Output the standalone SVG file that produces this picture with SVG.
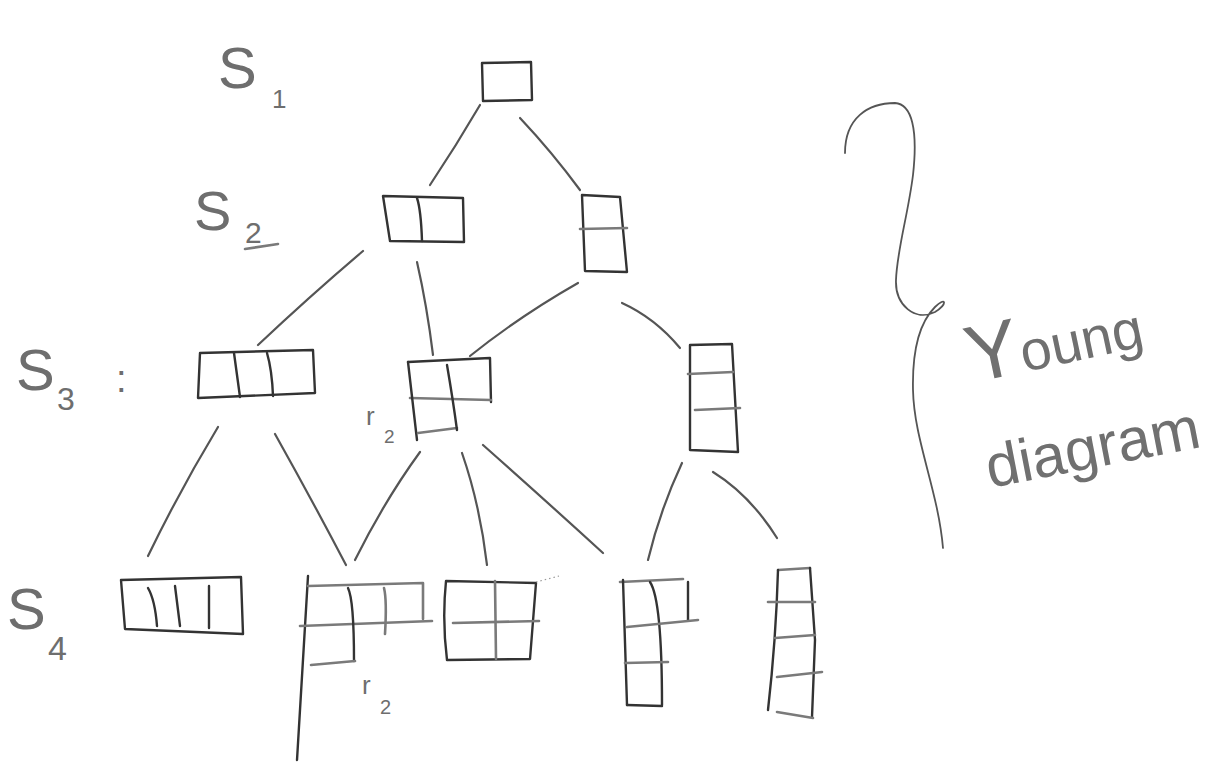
<svg xmlns="http://www.w3.org/2000/svg" width="1224" height="765" viewBox="0 0 1224 765">
<style>
.ln{fill:none;stroke:#333;stroke-width:2.4;stroke-linecap:round;stroke-linejoin:round}
.lg{fill:none;stroke:#7a7a7a;stroke-width:2.6;stroke-linecap:round;stroke-linejoin:round}
.cn{fill:none;stroke:#555;stroke-width:2.2;stroke-linecap:round}
.dt{fill:none;stroke:#999;stroke-width:1.2;stroke-dasharray:1.5 3}
.lbl{font-family:"Liberation Sans",Arial,sans-serif;fill:#6e6e6e}
.hw{font-family:"Liberation Sans",Arial,sans-serif;fill:#707070}
</style>
<rect width="1224" height="765" fill="#fff"/>

<!-- level labels -->
<g id="labels">
  <text class="lbl" x="218" y="88" font-size="58">S</text>
  <text class="lbl" x="272" y="108" font-size="26">1</text>
  <text class="lbl" x="194" y="230" font-size="56">S</text>
  <text class="lbl" x="245" y="243" font-size="30">2</text>
  <path class="lg" d="M245,249 L278,244" stroke-width="1.8"/>
  <text class="lbl" x="16" y="390" font-size="58">S</text>
  <text class="lbl" x="57" y="410" font-size="32">3</text>
  <text class="lbl" x="116" y="392" font-size="38">:</text>
  <text class="lbl" x="7" y="629" font-size="58">S</text>
  <text class="lbl" x="48" y="660" font-size="34">4</text>
  <text class="lbl" x="366" y="425" font-size="26">r<tspan x="384" y="443" font-size="19">2</tspan></text>
  <text class="lbl" x="362" y="694" font-size="26">r<tspan x="380" y="714" font-size="20">2</tspan></text>
</g>

<!-- connectors -->
<g id="connectors">
  <path class="cn" d="M480,105 Q456,146 430,185"/>
  <path class="cn" d="M520,118 Q552,152 580,190"/>
  <path class="cn" d="M363,251 Q310,296 258,345"/>
  <path class="cn" d="M417,262 Q427,306 433,355"/>
  <path class="cn" d="M578,283 Q520,316 470,356"/>
  <path class="cn" d="M622,303 Q655,318 680,348"/>
  <path class="cn" d="M218,427 Q180,490 148,556"/>
  <path class="cn" d="M275,434 Q312,500 346,565"/>
  <path class="cn" d="M420,452 Q385,500 355,560"/>
  <path class="cn" d="M462,453 Q480,505 487,565"/>
  <path class="cn" d="M483,445 Q545,500 603,553"/>
  <path class="cn" d="M682,463 Q660,510 648,560"/>
  <path class="cn" d="M713,472 Q750,495 777,538"/>
</g>

<!-- S1 -->
<g id="n-1">
  <path class="ln" d="M482,63 L531,62 L532,100 L483,101 Z"/>
</g>

<!-- S2 -->
<g id="n-2">
  <path class="ln" d="M383,196 L463,198 L464,242 L390,241 Z"/>
  <path class="ln" d="M417,198 Q421,210 422,241"/>
</g>
<g id="n-11">
  <path class="ln" d="M582,195 L620,197 L627,272 L585,271 Z"/>
  <path class="lg" d="M580,229 L627,228"/>
</g>

<!-- S3 -->
<g id="n-3">
  <path class="ln" d="M200,353 L313,350 L315,393 L198,398 Z"/>
  <path class="ln" d="M234,353 L240,397"/>
  <path class="ln" d="M267,353 Q272,370 273,396"/>
</g>
<g id="n-21">
  <path class="ln" d="M408,362 L490,358 L491,402"/>
  <path class="lg" d="M410,398 L491,400"/>
  <path class="ln" d="M408,362 L417,440"/>
  <path class="lg" d="M418,433 L457,428"/>
  <path class="ln" d="M447,365 Q453,400 457,430"/>
</g>
<g id="n-111">
  <path class="ln" d="M690,345 L732,344 L738,452 L690,450 Z"/>
  <path class="lg" d="M688,374 L733,372"/>
  <path class="lg" d="M695,410 L740,408"/>
</g>

<!-- S4 -->
<g id="n-4">
  <path class="ln" d="M121,580 L241,577 L243,634 L125,629 Z"/>
  <path class="ln" d="M148,588 Q155,600 157,626"/>
  <path class="ln" d="M175,586 L180,626"/>
  <path class="ln" d="M209,586 L209,628"/>
</g>
<g id="n-31">
  <path class="ln" d="M308,576 L297,760"/>
  <path class="lg" d="M308,586 L423,583 L423,619"/>
  <path class="lg" d="M300,626 L432,621"/>
  <path class="ln" d="M348,588 Q354,600 354,661"/>
  <path class="lg" d="M384,588 Q387,600 385,634"/>
  <path class="lg" d="M311,665 L355,661"/>
</g>
<g id="n-22">
  <path class="ln" d="M446,581 Q442,620 447,660 L530,659 L536,583 Z"/>
  <path class="lg" d="M453,623 L539,621"/>
  <path class="lg" d="M495,581 L496,659"/>
  <path class="dt" d="M536,582 L559,576"/>
</g>
<g id="n-211">
  <path class="lg" d="M620,582 L683,579"/>
  <path class="ln" d="M688,582 L688,620"/>
  <path class="ln" d="M623,580 L627,705"/>
  <path class="ln" d="M650,582 Q662,600 662,705"/>
  <path class="lg" d="M627,627 L698,620"/>
  <path class="lg" d="M625,663 L668,662"/>
  <path class="ln" d="M627,705 L662,706"/>
</g>
<g id="n-1111">
  <path class="lg" d="M778,570 L810,568"/>
  <path class="ln" d="M778,570 Q776,640 768,710"/>
  <path class="ln" d="M810,568 L815,640 L812,717"/>
  <path class="lg" d="M777,712 L813,718"/>
  <path class="lg" d="M768,602 L815,602"/>
  <path class="lg" d="M775,638 L815,635"/>
  <path class="lg" d="M777,677 L822,672"/>
</g>

<!-- brace and annotation -->
<g id="annotation">
  <path d="M845,153 C845,118 868,103 895,103 C912,104 918,130 913,175 C908,215 897,250 896,280 C895,305 915,322 935,312 C948,304 946,296 935,307 C922,320 912,345 913,390 C914,440 938,490 943,548" fill="none" stroke="#555" stroke-width="1.8" stroke-linecap="round"/>
  <text class="hw" font-size="56" transform="translate(972,383) rotate(-12)"><tspan font-size="80">Y</tspan>oung</text>
  <text class="hw" font-size="60" transform="translate(990,488) rotate(-11)">diagram</text>
</g>
</svg>
